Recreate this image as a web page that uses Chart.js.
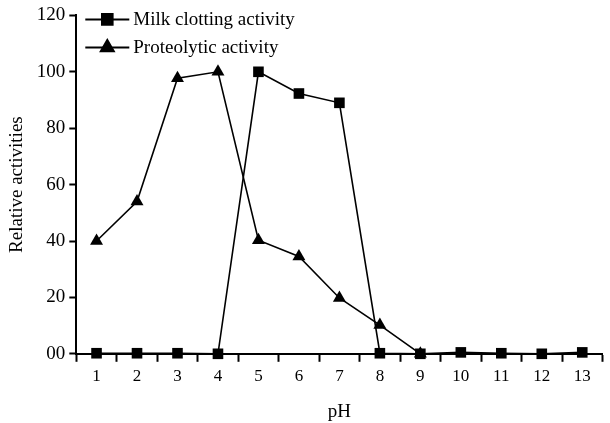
<!DOCTYPE html>
<html>
<head>
<meta charset="utf-8">
<script src="https://cdn.jsdelivr.net/npm/chart.js@4"></script>
<style>
  body { margin: 0; background: #fff; }
  #wrap { width: 610px; height: 423px; }
</style>
</head>
<body>
<div id="wrap"><canvas id="c" width="610" height="423"></canvas></div>
<script>
// pH values on the x axis
const phLabels = ['1', '2', '3', '4', '5', '6', '7', '8', '9', '10', '11', '12', '13'];
// relative activities
const milkClotting = [0.2, 0.2, 0.2, 0, 100, 92.3, 89, 0.2, 0, 0.5, 0.2, 0, 0.5];
const proteolytic = [40, 54, 97.7, 100, 40.3, 34.5, 19.8, 10.2, 0, null, null, null, null];
const yTicks = [0, 20, 40, 60, 80, 100, 120];

const serif = 'Liberation Serif';

// legend drawn as line + marker inside the plot, like the original
const lineLegend = {
  id: 'lineLegend',
  afterDraw(chart) {
    const ctx = chart.ctx;
    const a = chart.chartArea;
    chart.data.datasets.forEach((ds, i) => {
      const y = a.top + 4 + i * 28;
      const x0 = a.left + 9, x1 = a.left + 53, xm = a.left + 31;
      ctx.save();
      ctx.strokeStyle = '#000';
      ctx.lineWidth = 2;
      ctx.beginPath();
      ctx.moveTo(x0, y);
      ctx.lineTo(x1, y);
      ctx.stroke();
      Chart.helpers.drawPoint(ctx, {
        pointStyle: ds.pointStyle,
        radius: ds.pointRadius,
        borderWidth: 1
      }, xm, y);
      ctx.fill();
      ctx.fillStyle = '#000';
      ctx.font = '19px "' + serif + '"';
      ctx.textBaseline = 'middle';
      ctx.fillText(ds.label, a.left + 57, y + 1);
      ctx.restore();
    });
  }
};

new Chart(document.getElementById('c'), {
  type: 'line',
  data: {
    labels: phLabels,
    datasets: [
      {
        label: 'Milk clotting activity',
        data: milkClotting,
        borderColor: '#000',
        backgroundColor: '#000',
        borderWidth: 1.6,
        pointStyle: 'rect',
        pointRadius: 7.5,
        pointBorderWidth: 0,
        tension: 0,
        clip: false
      },
      {
        label: 'Proteolytic activity',
        data: proteolytic,
        borderColor: '#000',
        backgroundColor: '#000',
        borderWidth: 1.6,
        pointStyle: 'triangle',
        pointRadius: 7.5,
        pointBorderWidth: 0,
        tension: 0,
        clip: false
      }
    ]
  },
  options: {
    responsive: false,
    animation: false,
    layout: { padding: { top: 4, right: 0, left: 6, bottom: 0 } },
    plugins: {
      legend: { display: false },
      tooltip: { enabled: false }
    },
    scales: {
      x: {
        offset: true,
        grid: {
          offset: true,
          drawOnChartArea: false,
          drawTicks: true,
          tickLength: 8,
          tickWidth: 2,
          tickColor: '#000'
        },
        border: { color: '#000', width: 2 },
        ticks: {
          color: '#000',
          font: { family: serif, size: 17 },
          padding: 5,
          maxRotation: 0
        },
        title: {
          display: true,
          text: 'pH',
          color: '#000',
          font: { family: serif, size: 19 },
          padding: { top: 8, bottom: 0 }
        }
      },
      y: {
        min: 0,
        max: 120,
        afterBuildTicks(scale) {
          scale.ticks = yTicks.map(v => ({ value: v }));
        },
        grid: {
          drawOnChartArea: false,
          drawTicks: true,
          tickLength: 7,
          tickWidth: 2,
          tickColor: '#000'
        },
        border: { color: '#000', width: 2 },
        ticks: {
          color: '#000',
          font: { family: serif, size: 19 },
          padding: 4,
          callback: v => (v === 0 ? '00' : String(v))
        },
        title: {
          display: true,
          text: 'Relative activities',
          color: '#000',
          font: { family: serif, size: 19 },
          padding: { top: 0, bottom: 4 }
        }
      }
    }
  },
  plugins: [lineLegend]
});
</script>
</body>
</html>
